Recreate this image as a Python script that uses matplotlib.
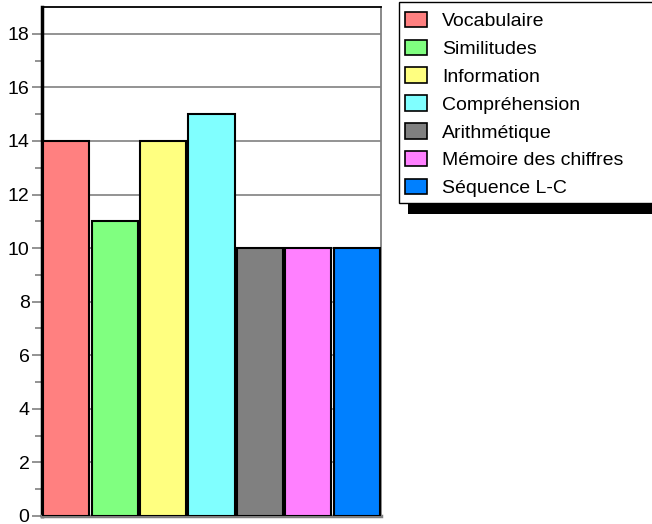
import matplotlib.pyplot as plt
from matplotlib.patches import Rectangle, Patch

plt.rcParams['font.family'] = ['Liberation Sans', 'DejaVu Sans']

labels = ['Vocabulaire', 'Similitudes', 'Information', 'Compréhension',
          'Arithmétique', 'Mémoire des chiffres', 'Séquence L-C']
values = [14, 11, 14, 15, 10, 10, 10]
colors = ['#ff8080', '#80ff80', '#ffff80', '#80ffff',
          '#808080', '#ff80ff', '#0080ff']

W, H = 652, 524
fig = plt.figure(figsize=(W / 100, H / 100), dpi=100)
ax = fig.add_axes([42 / W, 8 / H, 339 / W, 509 / H])

x = range(len(values))
ax.bar(x, values, width=0.95, color=colors, edgecolor='black', linewidth=1.5, zorder=3)

ax.set_xlim(-0.5, 6.5)
ax.set_ylim(0, 19)
ax.set_yticks(range(0, 19, 2))
ax.set_yticks(range(1, 19, 2), minor=True)
ax.set_xticks([])
ax.tick_params(axis='y', which='major', length=7, width=1.2, color='gray',
               labelsize=14, pad=2)
ax.tick_params(axis='y', which='minor', length=5, width=1.2, color='gray')
ax.yaxis.grid(True, color='gray', linewidth=1.2, zorder=0)
ax.set_axisbelow(True)

ax.spines['left'].set_linewidth(2.5)
ax.spines['left'].set_color('black')
ax.spines['top'].set_linewidth(1.3)
ax.spines['top'].set_color('black')
ax.spines['bottom'].set_linewidth(2.5)
ax.spines['bottom'].set_color('gray')
ax.spines['right'].set_linewidth(1.3)
ax.spines['right'].set_color('gray')

# legend box with hard black shadow
fig.patches.append(Rectangle((408 / W, (H - 214) / H), 260 / W, 14 / H,
                             transform=fig.transFigure, facecolor='black',
                             edgecolor='none', zorder=1))
fig.patches.append(Rectangle((399 / W, (H - 203) / H), 260 / W, 201 / H,
                             transform=fig.transFigure, facecolor='white',
                             edgecolor='black', linewidth=1, zorder=2))

handles = [Patch(facecolor=c, edgecolor='black', linewidth=1.2) for c in colors]
fig.legend(handles, labels, loc='upper left', bbox_to_anchor=(400 / W, (H - 7) / H),
           borderaxespad=0, frameon=False, fontsize=14, handlelength=1.12,
           handleheight=0.85, handletextpad=0.8, labelspacing=0.48, borderpad=0.25)

fig.savefig('out.png', dpi=100)
